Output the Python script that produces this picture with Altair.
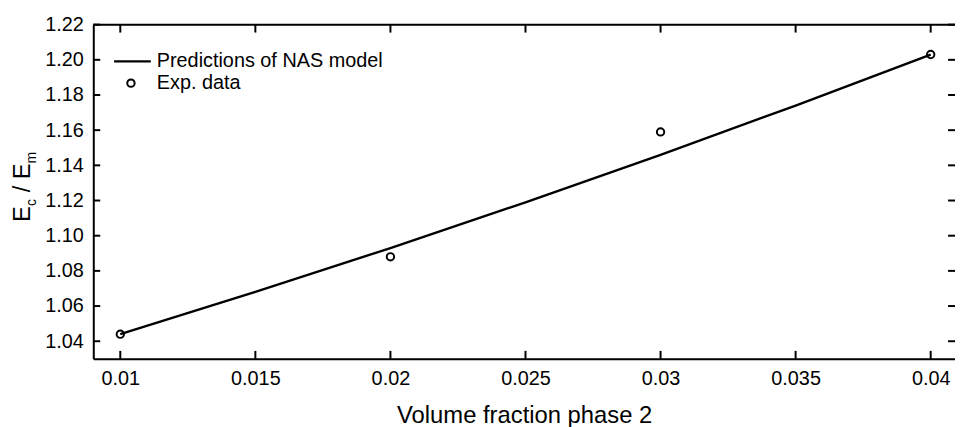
import altair as alt
import pandas as pd

# ---- data ----
x_model = [0.010, 0.015, 0.020, 0.025, 0.030, 0.035, 0.040]
y_model = [1.044, 1.068, 1.093, 1.119, 1.146, 1.174, 1.203]
x_exp = [0.01, 0.02, 0.03, 0.04]
y_exp = [1.044, 1.088, 1.159, 1.203]
x_ticks = [0.01, 0.015, 0.02, 0.025, 0.03, 0.035, 0.04]
y_ticks = [1.04, 1.06, 1.08, 1.10, 1.12, 1.14, 1.16, 1.18, 1.20, 1.22]
legend_labels = ["Predictions of NAS model", "Exp. data"]
x_title = "Volume fraction phase 2"

W, H = 869, 337
FONT = "Liberation Sans"

xs = alt.Scale(domain=[0.009, 0.0409], nice=False, zero=False)
ys = alt.Scale(domain=[1.03, 1.22], nice=False, zero=False)

x_axis = alt.Axis(
    values=x_ticks, format="~g", ticks=False, grid=False,
    domainColor="black", domainWidth=2, labelFontSize=20, labelFont=FONT,
    labelColor="black", labelPadding=10, labelFlush=False, labelOverlap=False,
    title=x_title, titleFontSize=24, titleFont=FONT, titleFontWeight="normal",
    titleColor="black", titlePadding=15)
y_axis = alt.Axis(
    values=y_ticks, format=".2f", ticks=False, grid=False,
    domainColor="black", domainWidth=2, labelFontSize=20, labelFont=FONT,
    labelColor="black", labelPadding=10, labelFlush=False, labelOverlap=False,
    title=None)

model = pd.DataFrame({"x": x_model, "y": y_model})
exp = pd.DataFrame({"x": x_exp, "y": y_exp})
xt = pd.DataFrame({"x": x_ticks})
yt = pd.DataFrame({"y": y_ticks})
one = pd.DataFrame({"a": [0]})

X = alt.X("x:Q", scale=xs, axis=x_axis)
Y = alt.Y("y:Q", scale=ys, axis=y_axis)

line = alt.Chart(model).mark_line(color="black", strokeWidth=2.4).encode(x=X, y=Y)

pt_style = dict(shape="circle", filled=False, color="black", size=55,
                strokeWidth=2, opacity=1)
points = alt.Chart(exp).mark_point(**pt_style).encode(x=X, y=Y)

tick_style = dict(color="black", strokeWidth=2)
bottom_ticks = alt.Chart(xt).mark_rule(**tick_style).encode(
    x=X, y=alt.value(H), y2=alt.value(H - 8))
top_ticks = alt.Chart(xt).mark_rule(**tick_style).encode(
    x=X, y=alt.value(0), y2=alt.value(8))
left_ticks = alt.Chart(yt).mark_rule(**tick_style).encode(
    y=Y, x=alt.value(0), x2=alt.value(7))
right_ticks = alt.Chart(yt).mark_rule(**tick_style).encode(
    y=Y, x=alt.value(W - 7), x2=alt.value(W))
top_frame = alt.Chart(one).mark_rule(**tick_style).encode(
    x=alt.value(0), x2=alt.value(W), y=alt.value(0))

# legend
leg_line = alt.Chart(one).mark_rule(color="black", strokeWidth=2.4).encode(
    x=alt.value(21), x2=alt.value(58), y=alt.value(37))
leg_pt = alt.Chart(one).mark_point(**pt_style).encode(
    x=alt.value(38), y=alt.value(59))
leg_t1 = alt.Chart(one).mark_text(text=legend_labels[0], font=FONT, fontSize=20,
                                  align="left", baseline="middle", color="black").encode(
    x=alt.value(64), y=alt.value(37))
leg_t2 = alt.Chart(one).mark_text(text=legend_labels[1], font=FONT, fontSize=20,
                                  align="left", baseline="middle", color="black").encode(
    x=alt.value(64), y=alt.value(59))

# y title: E_c / E_m with subscripts (rotated, reads bottom to top)
def ytxt(t, size, xpos, ypos):
    return alt.Chart(one).mark_text(text=t, font=FONT, fontSize=size, angle=270,
                                    align="left", baseline="alphabetic",
                                    color="black").encode(
        x=alt.value(xpos), y=alt.value(ypos))

BX, SX = -64, -58
yt_parts = [
    ytxt("E", 24, BX, 199),
    ytxt("c", 14, SX, 183),
    ytxt("/", 24, BX, 169),
    ytxt("E", 24, BX, 156),
    ytxt("m", 14, SX, 140),
]

chart = alt.layer(
    line, points, bottom_ticks, top_ticks, left_ticks, right_ticks, top_frame,
    leg_line, leg_pt, leg_t1, leg_t2, *yt_parts
).properties(
    width=W, height=H,
    autosize=alt.AutoSizeParams(type="none"),
    padding={"left": 86, "top": 15, "right": 0, "bottom": 70},
).configure_view(stroke=None).configure(background="white")

chart.save("out.html", embed_options={"renderer": "svg", "actions": False})
